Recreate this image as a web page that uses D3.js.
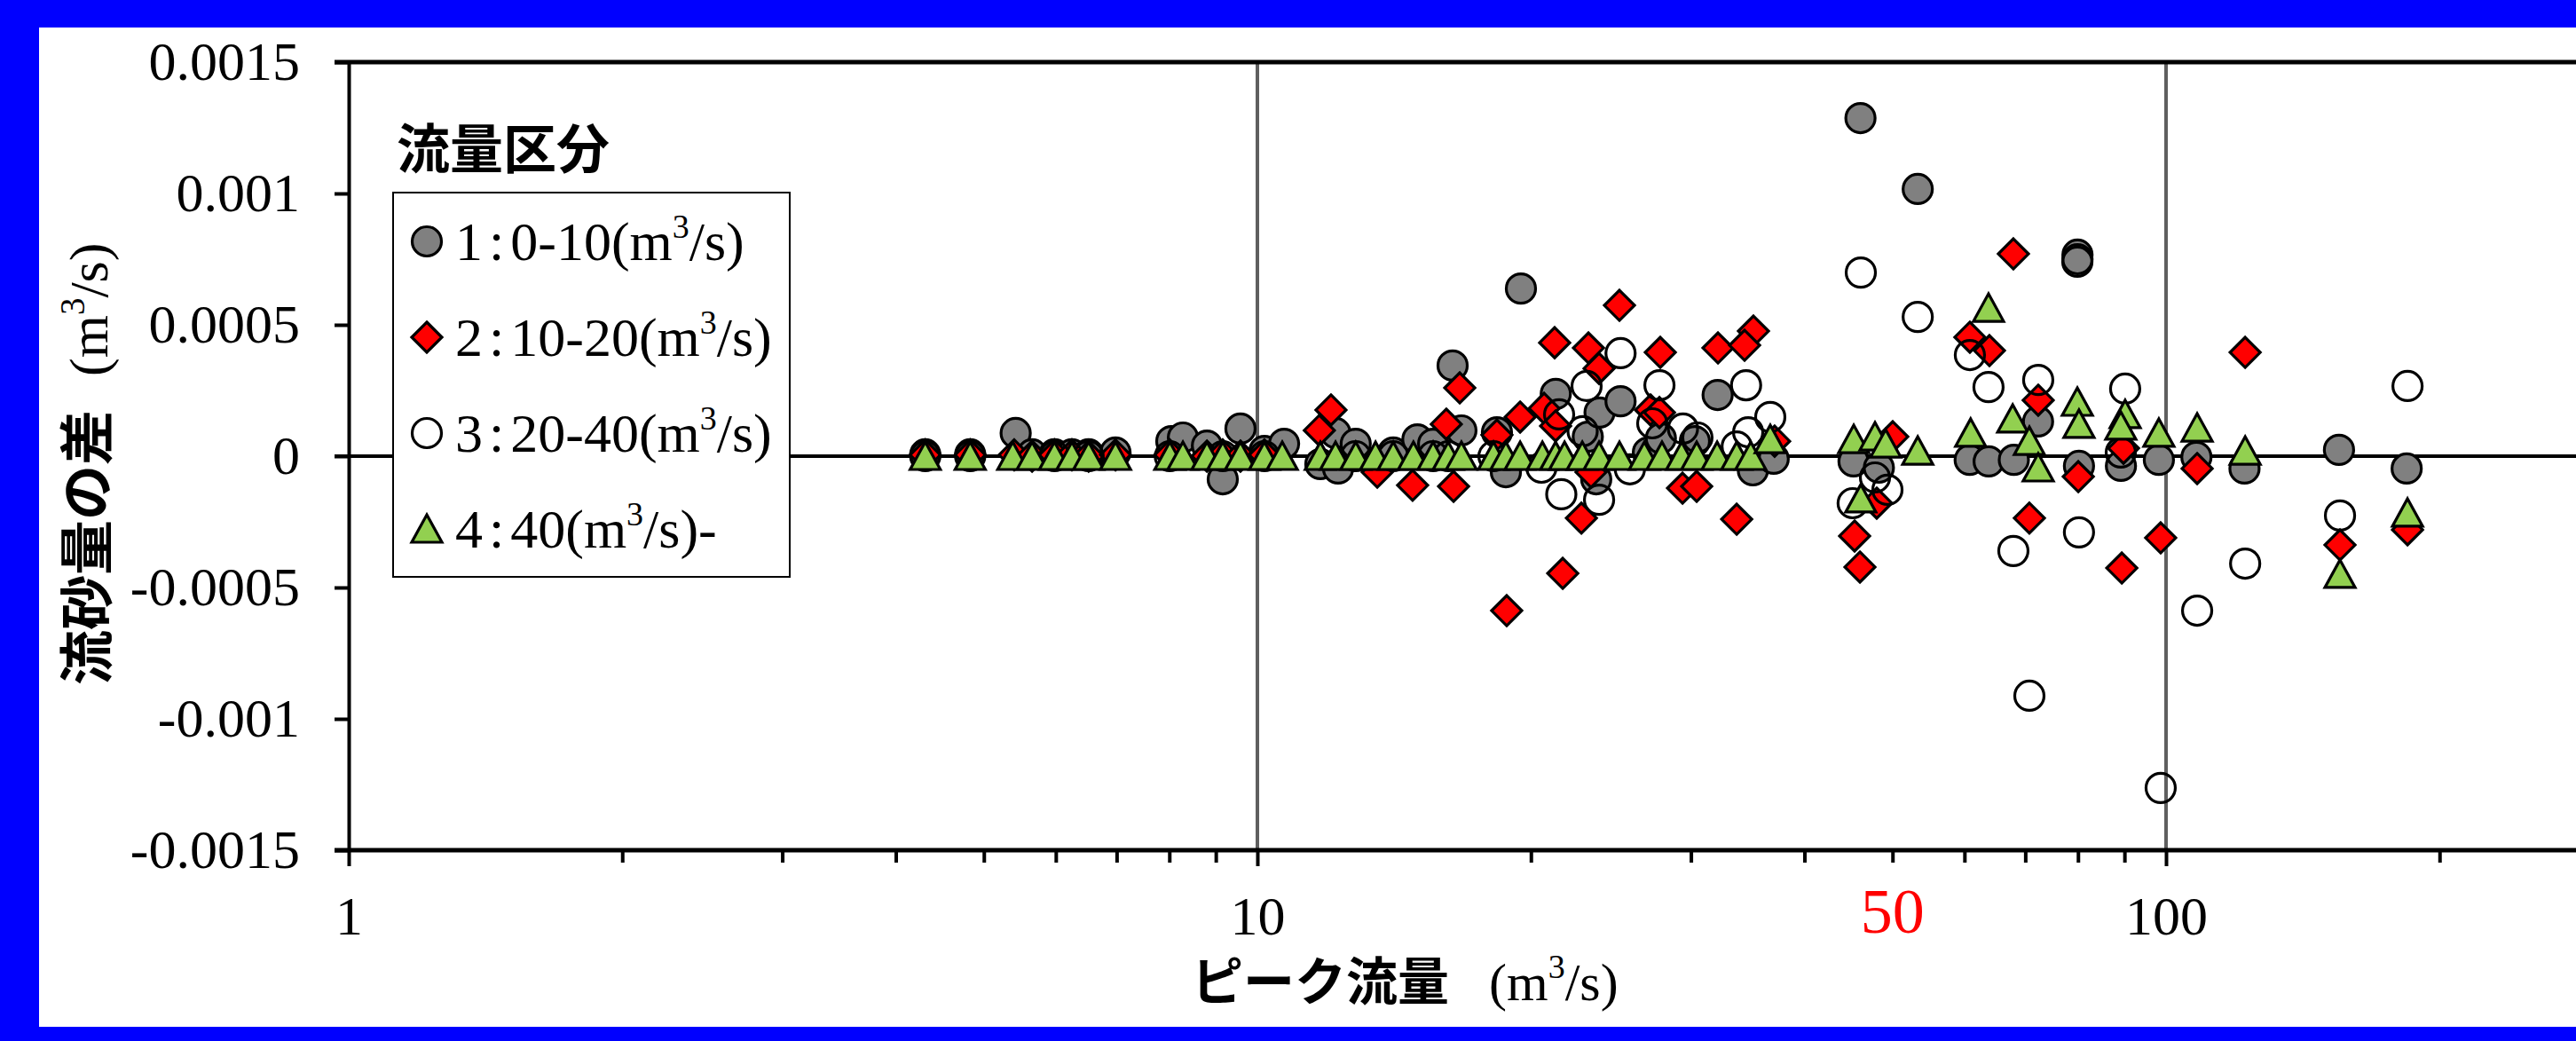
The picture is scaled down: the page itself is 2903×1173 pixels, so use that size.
<!DOCTYPE html>
<html>
<head>
<meta charset="utf-8">
<script src="https://cdn.jsdelivr.net/npm/d3@7"></script>
<style>
html, body { margin: 0; padding: 0; background: #0000ff; }
svg { display: block; }
</style>
</head>
<body>
<div id="chart"></div>
<script>
const width = 2903;
const height = 1173;

// y ticks
const yTicks = [-0.0015, -0.001, -0.0005, 0, 0.0005, 0.001, 0.0015];
const yTickLabels = ["-0.0015", "-0.001", "-0.0005", "0", "0.0005", "0.001", "0.0015"];
// x ticks (log)
const xMajorTicks = [1, 10, 100, 1000];
const xMajorLabels = ["1", "10", "100", ""];
const xMinorTicks = [2, 3, 4, 5, 6, 7, 8, 9, 20, 30, 40, 50, 60, 70, 80, 90, 200, 300, 400, 500, 600, 700, 800, 900];
const xMarkValue = 50;

// legend
const legendTitle = "流量区分";
const legendNums = ["1", "2", "3", "4"];
const legendRanges = ["0-10", "10-20", "20-40", "40"];
const legendTails = ["", "", "", "-"];

// [peak flow (m3/s), difference (m3/s)]
const series1 = [
    [4.31, 0.000007], [4.83, 0.000007], [5.42, 0.000088], [5.65, 0.000007], [5.98, 0.000007],
    [6.25, 0.000007], [6.52, 0.000007], [6.98, 0.000014], [8.04, 0.000057], [8.28, 0.000071],
    [8.80, 0.000040], [9.16, -0.000088], [9.58, 0.000105], [10.18, 0.000020], [10.70, 0.000047],
    [11.73, -0.000030], [12.19, 0.000088], [12.27, -0.000047], [12.83, 0.000047], [14.11, 0.000014],
    [15.00, 0.000064], [15.61, 0.000047], [16.77, 0.000098], [18.35, 0.000091], [18.77, -0.000061],
    [16.40, 0.000345], [19.50, 0.000638], [21.30, 0.000237], [23.10, 0.000074], [23.60, -0.000088],
    [23.80, 0.000166], [25.10, 0.000209], [26.90, 0.000014], [27.80, 0.000068], [30.30, 0.000057],
    [32.10, 0.000233], [35.10, -0.000054], [37.00, -0.000010], [45.30, -0.000020], [48.30, -0.000044],
    [60.80, -0.000014], [63.80, -0.000020], [68.00, -0.000014], [72.30, 0.000132], [80.20, -0.000037],
    [89.20, -0.000037], [98.20, -0.000014], [108.0, -0.000003], [122.0, -0.000047], [155.0, 0.000024],
    [184.0, -0.000047], [46.1, 0.001287], [53.3, 0.001017], [79.9, 0.000767], [79.9, 0.000750]
];
const series2 = [
    [4.31, 0.000005], [4.83, 0.000005], [5.40, 0.000005], [5.65, 0], [5.98, 0.000005],
    [6.25, 0.000005], [6.52, 0], [6.98, 0.000005], [8.01, 0.000005], [8.80, 0],
    [9.16, 0.000005], [9.58, 0], [10.18, 0.000005],
    [11.70, 0.000098], [12.05, 0.000176], [13.55, -0.000061], [14.82, -0.000111], [16.44, -0.000115],
    [16.14, 0.000122], [16.70, 0.000260], [18.35, 0.000081], [19.46, 0.000149], [20.68, 0.000182],
    [21.29, 0.000115], [22.73, -0.000236], [23.29, -0.000061], [27.08, 0.000176], [27.70, 0.000166],
    [29.37, -0.000122], [30.44, -0.000115], [33.69, -0.000240], [37.09, 0.000057], [25.03, 0.000574],
    [21.24, 0.000432], [23.14, 0.000412], [23.77, 0.000334], [27.76, 0.000395], [32.13, 0.000412],
    [35.15, 0.000476], [34.37, 0.000422], [18.81, -0.000588], [21.68, -0.000446], [50.03, 0.000074],
    [48.04, -0.000179], [45.42, -0.000304], [46.04, -0.000422], [67.92, 0.000770], [60.83, 0.000453],
    [63.92, 0.000402], [72.33, 0.000213], [70.73, -0.000236], [80.06, -0.000078], [89.78, 0.000030],
    [108.2, -0.000047], [89.40, -0.000426], [98.65, -0.000311], [122.2, 0.000395], [155.4, -0.000338],
    [184.4, -0.000280]
];
const series3 = [
    [4.31, 0], [4.83, 0], [5.98, 0], [6.52, 0], [8.01, 0], [9.16, 0], [10.18, 0],
    [12.83, 0], [14.11, 0], [15.61, 0], [16.22, 0], [18.19, 0],
    [23.03, 0.000267], [21.48, 0.000159], [21.60, -0.000145], [23.77, -0.000166], [27.70, 0.000270],
    [34.50, 0.000270], [27.20, 0.000125], [29.40, 0.000105], [30.50, 0.000071], [36.68, 0.000149],
    [34.68, 0.000091], [33.69, 0.000037], [20.54, -0.000044], [25.10, 0.000392], [22.80, 0.000095],
    [25.70, -0.000050], [47.83, -0.000081], [49.36, -0.000128], [45.20, -0.000179], [46.14, 0.000699],
    [53.30, 0.000530], [79.87, 0.000740], [60.83, 0.000385], [63.77, 0.000263], [72.33, 0.000290],
    [90.16, 0.000257], [89.17, 0.000014], [80.20, -0.000290], [67.92, -0.000361], [108.2, -0.000588],
    [70.73, -0.000912], [98.65, -0.001263], [122.2, -0.000409], [155.4, -0.000226], [184.4, 0.000267]
];
const series4 = [
    [4.31, 0], [4.83, 0], [5.38, 0], [5.65, 0], [5.98, 0], [6.25, 0], [6.52, 0], [6.98, 0],
    [8.01, 0], [8.28, 0], [8.80, 0], [9.16, 0], [9.58, 0], [10.18, 0], [10.65, 0], [11.73, 0],
    [12.19, 0], [12.83, 0], [13.49, 0], [14.11, 0], [14.85, 0], [15.61, 0], [16.22, 0], [16.77, 0],
    [18.19, 0], [18.77, 0], [19.46, 0], [20.59, 0], [21.29, 0], [21.78, 0], [22.78, 0], [23.77, 0],
    [25.03, 0], [26.66, 0], [27.88, 0], [29.30, 0], [30.44, 0], [32.06, 0], [33.69, 0], [34.91, 0],
    [36.68, 0.000064], [45.32, 0.000064], [47.83, 0.000074], [49.14, 0.000047], [53.30, 0.000020],
    [46.14, -0.000162], [60.95, 0.000088], [67.80, 0.000142], [70.73, 0.000057], [72.33, -0.000044],
    [79.87, 0.000206], [80.20, 0.000122], [90.16, 0.000159], [89.17, 0.000115], [98.20, 0.000088],
    [108.2, 0.000108], [122.2, 0.000020], [155.4, -0.000449], [184.4, -0.000216], [63.77, 0.000564]
];

const allSeries = [series1, series2, series3, series4];
const markerStyle = [
    {shape: "circle", fill: "#808080"},
    {shape: "diamond", fill: "#ff0000"},
    {shape: "circle", fill: "none"},
    {shape: "triangle", fill: "#92d050"}
];

const serif = "'Liberation Serif', 'Times New Roman', serif";
const gothic = "'Noto Sans CJK JP', 'Noto Sans CJK SC', sans-serif";

const svg = d3.select("#chart").append("svg")
    .attr("width", width)
    .attr("height", height);

// blue frame + white area
svg.append("rect").attr("width", width).attr("height", height).attr("fill", "#0000ff");
svg.append("rect").attr("x", 44).attr("y", 31).attr("width", width - 44).attr("height", 1126).attr("fill", "#ffffff");

const x = d3.scaleLog().domain([1, 1000]).range([393, 393 + 3 * 1024]);
const y = d3.scaleLinear().domain([-0.0015, 0.0015]).range([958, 70]);

function markerPath(shape) {
    if (shape === "circle") return d3.symbol().type(d3.symbolCircle).size(Math.PI * 16.5 * 16.5)();
    if (shape === "diamond") return "M0,-17L17,0L0,17L-17,0Z";
    return "M0,-16L17,15L-17,15Z";
}

// vertical grid at 10 and 100
svg.selectAll(".vgrid")
    .data([10, 100])
    .enter()
    .append("line")
    .attr("class", "vgrid")
    .attr("x1", d => x(d))
    .attr("x2", d => x(d))
    .attr("y1", y(0.0015))
    .attr("y2", y(-0.0015))
    .attr("stroke", "#5f5f5f")
    .attr("stroke-width", 4);

// top border and zero line
svg.append("line")
    .attr("x1", x(1) - 16).attr("x2", width)
    .attr("y1", y(0.0015)).attr("y2", y(0.0015))
    .attr("stroke", "#000").attr("stroke-width", 5);
svg.append("line")
    .attr("x1", x(1) - 16).attr("x2", width)
    .attr("y1", y(0)).attr("y2", y(0))
    .attr("stroke", "#000").attr("stroke-width", 4);

// y axis
const gY = svg.append("g")
    .attr("transform", "translate(" + x(1) + ",0)")
    .call(d3.axisLeft(y)
        .tickValues(yTicks)
        .tickSize(16)
        .tickSizeOuter(0)
        .tickPadding(39)
        .tickFormat((d, i) => yTickLabels[i]));
gY.attr("color", "#000");
gY.select(".domain").attr("stroke-width", 4);
gY.selectAll(".tick line").attr("stroke-width", 4);
gY.selectAll(".tick text")
    .style("font-family", serif)
    .style("font-size", "62px");

// x axis: minor then major ticks
const gXminor = svg.append("g")
    .attr("transform", "translate(0," + y(-0.0015) + ")")
    .call(d3.axisBottom(x).tickValues(xMinorTicks).tickSize(14).tickSizeOuter(0).tickFormat(""));
gXminor.attr("color", "#000");
gXminor.select(".domain").remove();
gXminor.selectAll(".tick line").attr("stroke-width", 4);

const gX = svg.append("g")
    .attr("transform", "translate(0," + y(-0.0015) + ")")
    .call(d3.axisBottom(x)
        .tickValues(xMajorTicks)
        .tickSize(18)
        .tickSizeOuter(0)
        .tickPadding(33)
        .tickFormat((d, i) => xMajorLabels[i]));
gX.attr("color", "#000");
gX.select(".domain").remove();
gX.selectAll(".tick line").attr("stroke-width", 4);
gX.selectAll(".tick text")
    .style("font-family", serif)
    .style("font-size", "62px");

svg.append("line")
    .attr("x1", x(1) - 16).attr("x2", width)
    .attr("y1", y(-0.0015)).attr("y2", y(-0.0015))
    .attr("stroke", "#000").attr("stroke-width", 5);

// red 50 label
svg.append("text")
    .attr("x", x(xMarkValue))
    .attr("y", 1051)
    .attr("text-anchor", "middle")
    .style("font-family", serif)
    .style("font-size", "72px")
    .attr("fill", "#ff0000")
    .text("50");

// markers
allSeries.forEach((data, k) => {
    const st = markerStyle[k];
    svg.append("g")
        .selectAll("path")
        .data(data)
        .enter()
        .append("path")
        .attr("d", markerPath(st.shape))
        .attr("transform", d => "translate(" + x(d[0]) + "," + y(d[1]) + ")")
        .attr("fill", st.fill)
        .attr("stroke", "#000")
        .attr("stroke-width", 3.2);
});

// axis titles
const xt = svg.append("text")
    .attr("x", 1343)
    .attr("y", 1127)
    .attr("fill", "#000");
xt.append("tspan").style("font-family", gothic).style("font-size", "58px").style("font-weight", "bold").text("ピーク流量");
xt.append("tspan").attr("dx", 45).style("font-family", serif).style("font-size", "60px").text("(m");
xt.append("tspan").attr("dy", -25).style("font-family", serif).style("font-size", "38px").text("3");
xt.append("tspan").attr("dy", 25).style("font-family", serif).style("font-size", "60px").text("/s)");

const yt = svg.append("text")
    .attr("transform", "translate(121,772) rotate(-90)")
    .attr("fill", "#000");
yt.append("tspan").style("font-family", gothic).style("font-size", "62px").style("font-weight", "bold").text("流砂量の差");
yt.append("tspan").attr("dx", 38).style("font-family", serif).style("font-size", "62px").text("(m");
yt.append("tspan").attr("dy", -26).style("font-family", serif).style("font-size", "39px").text("3");
yt.append("tspan").attr("dy", 26).style("font-family", serif).style("font-size", "62px").text("/s)");

// legend
svg.append("text")
    .attr("x", 447)
    .attr("y", 190)
    .style("font-family", gothic)
    .style("font-size", "60px")
    .style("font-weight", "bold")
    .attr("fill", "#000")
    .text(legendTitle);

const gL = svg.append("g");
gL.append("rect")
    .attr("x", 443).attr("y", 217)
    .attr("width", 447).attr("height", 433)
    .attr("fill", "#fff")
    .attr("stroke", "#000")
    .attr("stroke-width", 2);

legendNums.forEach((num, i) => {
    const st = markerStyle[i];
    const by = 293 + i * 108;
    gL.append("path")
        .attr("d", markerPath(st.shape))
        .attr("transform", "translate(481," + (by - 21) + ")")
        .attr("fill", st.fill === "none" ? "#fff" : st.fill)
        .attr("stroke", "#000")
        .attr("stroke-width", 3.2);
    const t = gL.append("text")
        .attr("x", 513)
        .attr("y", by)
        .style("font-family", serif)
        .style("font-size", "62px")
        .attr("fill", "#000");
    t.append("tspan").text(num);
    t.append("tspan").attr("dx", 7).text(":");
    t.append("tspan").attr("dx", 7).text(legendRanges[i] + "(m");
    t.append("tspan").attr("dy", -25).style("font-size", "38px").text("3");
    t.append("tspan").attr("dy", 25).text("/s)" + legendTails[i]);
});
</script>
</body>
</html>
